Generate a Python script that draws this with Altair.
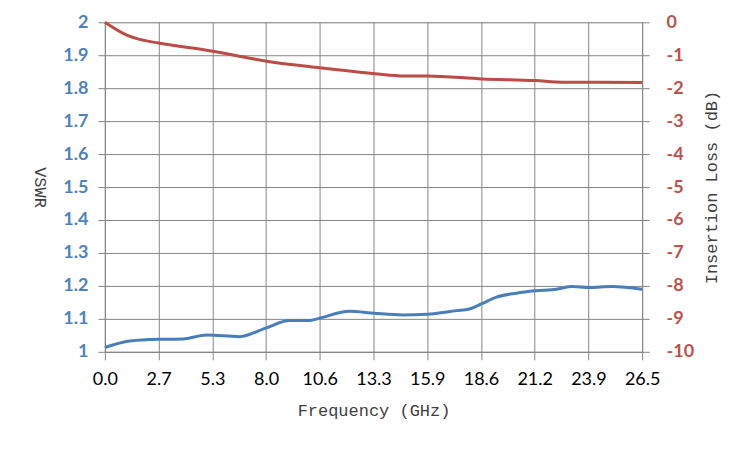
import altair as alt
import pandas as pd

freq_vswr = [0.0, 1.23, 2.66, 3.84, 5.02, 6.65, 7.93, 9.11, 10.10, 10.59, 12.07, 13.30,
             14.68, 15.91, 17.34, 17.98, 18.62, 19.31, 20.30, 21.23, 22.27, 23.05, 23.89, 25.02, 26.5]
vswr = [1.013, 1.033, 1.038, 1.039, 1.051, 1.046, 1.072, 1.095, 1.095, 1.102, 1.123, 1.117,
        1.112, 1.114, 1.125, 1.130, 1.147, 1.166, 1.178, 1.185, 1.190, 1.198, 1.195, 1.198, 1.190]

freq_il = [0.0, 1.08, 1.72, 2.66, 5.32, 7.98, 10.59, 13.30, 14.78, 15.91, 18.62, 21.23, 22.56, 23.89, 26.5]
il = [0.0, -0.39, -0.52, -0.63, -0.88, -1.18, -1.38, -1.56, -1.63, -1.63, -1.72, -1.77, -1.82, -1.82, -1.83]

x_ticks = [0, 2.65, 5.3, 7.95, 10.6, 13.25, 15.9, 18.55, 21.2, 23.85, 26.5]
vswr_ticks = [1, 1.1, 1.2, 1.3, 1.4, 1.5, 1.6, 1.7, 1.8, 1.9, 2]
il_ticks = [0, -1, -2, -3, -4, -5, -6, -7, -8, -9, -10]

df_v = pd.DataFrame({"f": freq_vswr, "v": vswr})
df_i = pd.DataFrame({"f": freq_il, "il": il})

GRID = "#868686"
BLUE_LBL = "#4F81BD"
RED_LBL = "#C0504D"
TITLE_COLOR = "#404040"

x_enc = alt.X("f:Q", scale=alt.Scale(domain=[0, 26.5], nice=False, zero=False),
              axis=alt.Axis(values=x_ticks, labelExpr="format(datum.value + 0.0001, '.1f')",
                            title="Frequency (GHz)", grid=True, gridColor=GRID,
                            domainColor=GRID, tickColor=GRID, tickSize=8,
                            labelFlush=False, labelOverlap=False,
                            labelFont="Lato", labelFontSize=18, labelColor="#000000",
                            labelPadding=11,
                            titleFont="Liberation Mono", titleFontSize=17,
                            titleFontWeight="normal", titleColor=TITLE_COLOR, titlePadding=14))

vswr_line = alt.Chart(df_v).mark_line(color="#4A7EBB", strokeWidth=3, interpolate="monotone").encode(
    x=x_enc,
    y=alt.Y("v:Q", scale=alt.Scale(domain=[1, 2], nice=False, zero=False),
            axis=alt.Axis(values=vswr_ticks, labelExpr="'' + datum.value", title="VSWR", orient="left",
                          grid=True, gridColor=GRID, domainColor=GRID, tickColor=GRID,
                          tickSize=7, labelFont="Lato", labelFontSize=18,
                          labelFontWeight="bold", labelColor=BLUE_LBL, labelPadding=10,
                          labelFlush=False, labelOverlap=False,
                          titleFont="Liberation Mono", titleFontSize=17,
                          titleFontWeight="normal", titleColor=TITLE_COLOR,
                          titleAngle=90, titlePadding=32))
)

il_line = alt.Chart(df_i).mark_line(color="#BE4B48", strokeWidth=3, interpolate="monotone").encode(
    x=alt.X("f:Q"),
    y=alt.Y("il:Q", scale=alt.Scale(domain=[-10, 0], nice=False, zero=False),
            axis=alt.Axis(values=il_ticks, labelExpr="'' + datum.value",
                          title="Insertion Loss (dB)", orient="right",
                          grid=False, domainColor=GRID, tickColor=GRID,
                          tickSize=7, labelFont="Lato", labelFontSize=18,
                          labelFontWeight="bold", labelColor=RED_LBL, labelPadding=17,
                          labelFlush=False, labelOverlap=False,
                          titleFont="Liberation Mono", titleFontSize=17,
                          titleFontWeight="normal", titleColor=TITLE_COLOR,
                          titleAngle=270, titlePadding=27))
)

chart = alt.layer(vswr_line, il_line).resolve_scale(y="independent").properties(
    width=538, height=330,
    autosize=alt.AutoSizeParams(type="none"),
    padding={"left": 97, "top": 14, "right": 100, "bottom": 80},
).configure_view(stroke=GRID, strokeWidth=1).configure(background="white")

chart.save("out.html", embed_options={"renderer": "svg", "actions": False})
